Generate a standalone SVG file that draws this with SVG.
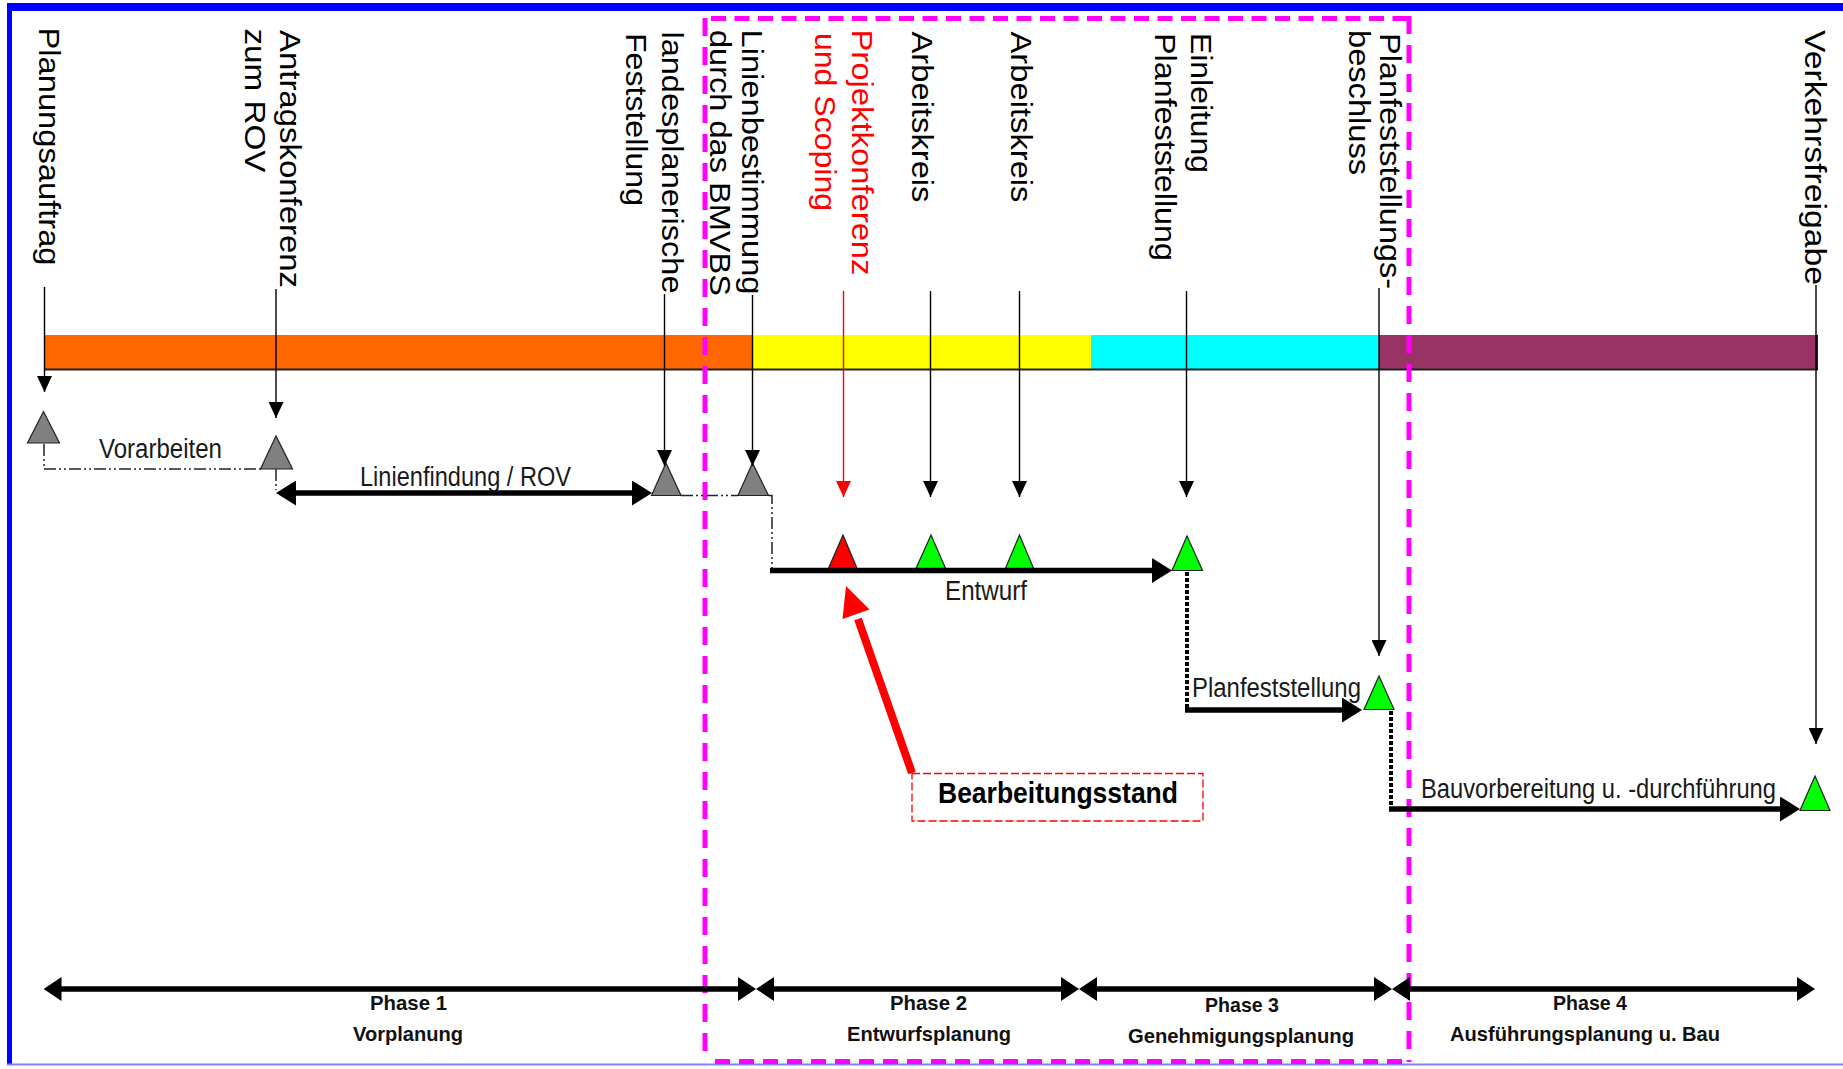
<svg xmlns="http://www.w3.org/2000/svg" width="1843" height="1069" viewBox="0 0 1843 1069">
<style>
.vt{font-family:"Liberation Sans",Arial,sans-serif;font-size:30px;fill:#000}
.vt.red{fill:#ff0000}
.hl{font-family:"Liberation Sans",Arial,sans-serif;font-size:27px;fill:#1a1a1a}
.ph{font-family:"Liberation Sans",Arial,sans-serif;font-size:21px;font-weight:bold;fill:#111}
.thin{stroke:#000;stroke-width:1.4;fill:none}
.thick{stroke:#000;stroke-width:5.5;fill:none}
.dd{stroke:#222;stroke-width:1.5;fill:none;stroke-dasharray:12 3 2 3 2 3}
.dotted{stroke:#000;stroke-width:4;fill:none;stroke-dasharray:4 2}
.tri{stroke:#222;stroke-width:1.2}
.gray{fill:#808080}.grn{fill:#00ff00}.rd{fill:#ff0000}
.mag{stroke:#ff00ff;stroke-width:5;fill:none}
</style>
<defs>
<marker id="ahThin" markerUnits="userSpaceOnUse" markerWidth="16" markerHeight="15" refX="16" refY="7.5" orient="auto"><path d="M0,0 L16,7.5 L0,15 Z" fill="#000"/></marker>
<marker id="ahThinRed" markerUnits="userSpaceOnUse" markerWidth="16" markerHeight="15" refX="16" refY="7.5" orient="auto"><path d="M0,0 L16,7.5 L0,15 Z" fill="#ff0000"/></marker>
<marker id="ahThick" markerUnits="userSpaceOnUse" markerWidth="20" markerHeight="25" refX="1" refY="12.5" orient="auto-start-reverse"><path d="M0,0 L20,12.5 L0,25 Z" fill="#000"/></marker>
<marker id="ahPhase" markerUnits="userSpaceOnUse" markerWidth="18" markerHeight="24" refX="1" refY="12" orient="auto-start-reverse"><path d="M0,0 L18,12 L0,24 Z" fill="#000"/></marker>
</defs>
<rect width="1843" height="1069" fill="#fff"/>
<g id="frame">
<rect x="7" y="3" width="1836" height="8" fill="#0000ff"/>
<rect x="7" y="3" width="5" height="1062" fill="#0000ff"/>
<rect x="7" y="1063.5" width="1836" height="2" fill="#8080ff"/>
</g>
<g id="timeline-bar">
<rect x="45" y="335" width="708" height="34" fill="#ff6600"/>
<rect x="753" y="335" width="338" height="34" fill="#ffff00"/>
<rect x="1091" y="335" width="288" height="34" fill="#00ffff"/>
<rect x="1379" y="335" width="438" height="34" fill="#993366"/>
<rect x="45" y="368.5" width="1773" height="2" fill="#222"/>
<rect x="1816" y="335" width="2" height="35" fill="#222"/>
</g>
<g id="focus-box">
<line class="mag" x1="705" y1="18" x2="705" y2="1062" stroke-dasharray="18 11"/>
<line class="mag" x1="1409" y1="16" x2="1409" y2="1062" stroke-dasharray="18 11"/>
<line class="mag" x1="711" y1="18.5" x2="1409" y2="18.5" stroke-dasharray="15 8.5"/>
<line class="mag" x1="715" y1="1061.5" x2="1409" y2="1061.5" stroke-dasharray="15 9"/>
</g>
<g id="ms-planungsauftrag">
<text class="vt" transform="translate(39,27.5) rotate(90)" textLength="238" lengthAdjust="spacingAndGlyphs">Planungsauftrag</text>
<polygon class="tri gray" points="43.5,411.5 27.5,443 59.5,443"/>
</g>
<g id="ms-antragskonferenz">
<text class="vt" transform="translate(280,30) rotate(90)" textLength="258" lengthAdjust="spacingAndGlyphs">Antragskonferenz</text>
<text class="vt" transform="translate(245,28.5) rotate(90)" textLength="144" lengthAdjust="spacingAndGlyphs">zum ROV</text>
<polygon class="tri gray" points="276,436 260.5,469 292.5,469"/>
</g>
<g id="ms-landesplanerische-feststellung">
<text class="vt" transform="translate(662,31.5) rotate(90)" textLength="262" lengthAdjust="spacingAndGlyphs">landesplanerische</text>
<text class="vt" transform="translate(626,33) rotate(90)" textLength="173" lengthAdjust="spacingAndGlyphs">Feststellung</text>
<polygon class="tri gray" points="666,463 651.5,495.5 681,495.5"/>
</g>
<g id="ms-linienbestimmung">
<text class="vt" transform="translate(741.5,29.5) rotate(90)" textLength="265" lengthAdjust="spacingAndGlyphs">Linienbestimmung</text>
<text class="vt" transform="translate(710,30) rotate(90)" textLength="266" lengthAdjust="spacingAndGlyphs">durch das BMVBS</text>
<polygon class="tri gray" points="752.5,463 738,495.5 768.5,495.5"/>
</g>
<g id="ms-projektkonferenz">
<text class="vt red" transform="translate(852,29.5) rotate(90)" textLength="246" lengthAdjust="spacingAndGlyphs">Projektkonferenz</text>
<text class="vt red" transform="translate(815,33) rotate(90)" textLength="178" lengthAdjust="spacingAndGlyphs">und Scoping</text>
<polygon class="tri rd" points="843,535 828,569.5 857.5,569.5"/>
</g>
<g id="ms-arbeitskreis-1">
<text class="vt" transform="translate(912,31.5) rotate(90)" textLength="171" lengthAdjust="spacingAndGlyphs">Arbeitskreis</text>
<polygon class="tri grn" points="931,535 915.5,569.5 946,569.5"/>
</g>
<g id="ms-arbeitskreis-2">
<text class="vt" transform="translate(1011,31.5) rotate(90)" textLength="171" lengthAdjust="spacingAndGlyphs">Arbeitskreis</text>
<polygon class="tri grn" points="1019.5,535 1005,569.5 1034,569.5"/>
</g>
<g id="ms-einleitung">
<text class="vt" transform="translate(1191,33) rotate(90)" textLength="140" lengthAdjust="spacingAndGlyphs">Einleitung</text>
<text class="vt" transform="translate(1155,33) rotate(90)" textLength="228" lengthAdjust="spacingAndGlyphs">Planfeststellung</text>
<polygon class="tri grn" points="1187,536 1172,570.5 1202.5,570.5"/>
</g>
<g id="ms-planfeststellungsbeschluss">
<text class="vt" transform="translate(1380,33) rotate(90)" textLength="256" lengthAdjust="spacingAndGlyphs">Planfeststellungs-</text>
<text class="vt" transform="translate(1348.5,30) rotate(90)" textLength="145" lengthAdjust="spacingAndGlyphs">beschluss</text>
<polygon class="tri grn" points="1379,676 1364,709.5 1394,709.5"/>
</g>
<g id="ms-verkehrsfreigabe">
<text class="vt" transform="translate(1805,30) rotate(90)" textLength="255" lengthAdjust="spacingAndGlyphs">Verkehrsfreigabe</text>
<polygon class="tri grn" points="1815,776 1800,810.5 1830,810.5"/>
</g>
<g id="connectors">
<line class="thin" x1="44.5" y1="287" x2="44.5" y2="392" marker-end="url(#ahThin)"/>
<line class="thin" x1="276" y1="289" x2="276" y2="418" marker-end="url(#ahThin)"/>
<line class="thin" x1="664.5" y1="294" x2="664.5" y2="466" marker-end="url(#ahThin)"/>
<line class="thin" x1="752.5" y1="295" x2="752.5" y2="466" marker-end="url(#ahThin)"/>
<line x1="843.5" y1="291" x2="843.5" y2="497" stroke="#ff0000" stroke-width="1.4" marker-end="url(#ahThinRed)"/>
<line class="thin" x1="930.5" y1="291" x2="930.5" y2="497" marker-end="url(#ahThin)"/>
<line class="thin" x1="1019.5" y1="291" x2="1019.5" y2="497" marker-end="url(#ahThin)"/>
<line class="thin" x1="1186.5" y1="291" x2="1186.5" y2="497" marker-end="url(#ahThin)"/>
<line class="thin" x1="1379" y1="288" x2="1379" y2="656" marker-end="url(#ahThin)"/>
<line class="thin" x1="1816" y1="285" x2="1816" y2="744" marker-end="url(#ahThin)"/>
<path class="dd" d="M44,444 V469 H261"/>
<path class="dd" d="M276,469 V490"/>
<path class="dd" d="M681,495.5 H738" stroke-dasharray="16 3 3 3"/>
<path class="dd" d="M768.5,495.5 H772 V570"/>
<line class="thick" x1="295" y1="493" x2="633" y2="493" marker-start="url(#ahThick)" marker-end="url(#ahThick)"/>
<line class="thick" x1="770" y1="570.5" x2="1153" y2="570.5" marker-end="url(#ahThick)"/>
<line class="dotted" x1="1187" y1="572" x2="1187" y2="710"/>
<line class="thick" x1="1185" y1="710" x2="1343" y2="710" marker-end="url(#ahThick)"/>
<line class="dotted" x1="1391" y1="711" x2="1391" y2="809"/>
<line class="thick" x1="1389" y1="809" x2="1781" y2="809" marker-end="url(#ahThick)"/>
<line class="thick" x1="60.5" y1="989" x2="739" y2="989" marker-start="url(#ahPhase)" marker-end="url(#ahPhase)"/>
<line class="thick" x1="773" y1="989" x2="1062" y2="989" marker-start="url(#ahPhase)" marker-end="url(#ahPhase)"/>
<line class="thick" x1="1096" y1="989" x2="1375" y2="989" marker-start="url(#ahPhase)" marker-end="url(#ahPhase)"/>
<line class="thick" x1="1409" y1="989" x2="1798" y2="989" marker-start="url(#ahPhase)" marker-end="url(#ahPhase)"/>
<line x1="912" y1="773" x2="858" y2="619" stroke="#ff0000" stroke-width="8"/>
<polygon points="846,586 869.5,609.5 842.5,619" fill="#ff0000"/>
</g>
<g id="activity-labels">
<text class="hl" x="99" y="458" textLength="123" lengthAdjust="spacingAndGlyphs">Vorarbeiten</text>
<text class="hl" x="360" y="486" textLength="211" lengthAdjust="spacingAndGlyphs">Linienfindung / ROV</text>
<text class="hl" x="945" y="600" textLength="82" lengthAdjust="spacingAndGlyphs">Entwurf</text>
<text class="hl" x="1192" y="697" textLength="169" lengthAdjust="spacingAndGlyphs">Planfeststellung</text>
<text class="hl" x="1421" y="798" textLength="355" lengthAdjust="spacingAndGlyphs">Bauvorbereitung u. -durchführung</text>
</g>
<g id="bearbeitungsstand">
<rect x="912" y="773.5" width="291" height="47.5" fill="none" stroke="#ff0000" stroke-width="1.3" stroke-dasharray="8 3"/>
<text x="938" y="803" font-family="Liberation Sans, Arial, sans-serif" font-size="29" font-weight="bold" fill="#000" textLength="240" lengthAdjust="spacingAndGlyphs">Bearbeitungsstand</text>
</g>
<g id="phase-1">
<text class="ph" x="370" y="1010" textLength="77" lengthAdjust="spacingAndGlyphs">Phase 1</text>
<text class="ph" x="353" y="1041" textLength="110" lengthAdjust="spacingAndGlyphs">Vorplanung</text>
</g>
<g id="phase-2">
<text class="ph" x="890" y="1010" textLength="77" lengthAdjust="spacingAndGlyphs">Phase 2</text>
<text class="ph" x="847" y="1041" textLength="164" lengthAdjust="spacingAndGlyphs">Entwurfsplanung</text>
</g>
<g id="phase-3">
<text class="ph" x="1205" y="1012" textLength="74" lengthAdjust="spacingAndGlyphs">Phase 3</text>
<text class="ph" x="1128" y="1043" textLength="226" lengthAdjust="spacingAndGlyphs">Genehmigungsplanung</text>
</g>
<g id="phase-4">
<text class="ph" x="1553" y="1010" textLength="74" lengthAdjust="spacingAndGlyphs">Phase 4</text>
<text class="ph" x="1450" y="1041" textLength="270" lengthAdjust="spacingAndGlyphs">Ausführungsplanung u. Bau</text>
</g>
</svg>
